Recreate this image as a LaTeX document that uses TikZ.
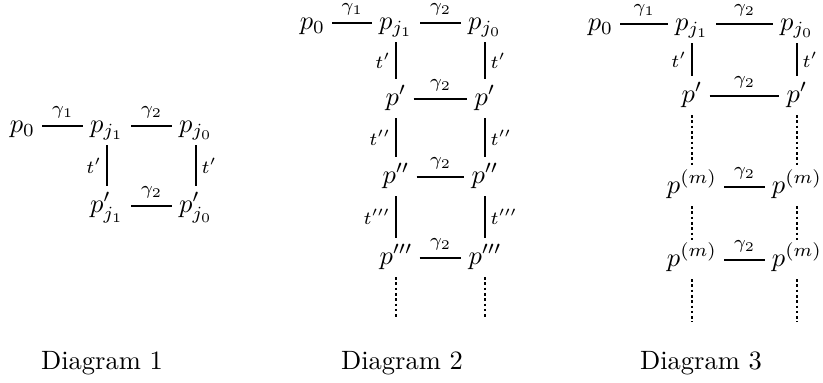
\documentclass[tikz,border=0pt]{standalone}
\begin{document}
\begin{tikzpicture}[x=0.3774pt,y=-0.3774pt,
  obj/.style={anchor=base, inner xsep=2.5pt, inner ysep=2pt, text height=7.7pt, text depth=2.5pt},
  lbl/.style={font=\scriptsize, inner sep=1.8pt},
  glbl/.style={font=\scriptsize, inner sep=2.6pt},
  ln/.style={line width=0.6pt},
  dl/.style={line width=0.6pt, dash pattern=on 1pt off 1pt},
  captext/.style={anchor=base, inner sep=0pt}]
\useasboundingbox (0,0) rectangle (823,383);
% ---------- Diagram 1
\node[obj] (a0) at (22.5,132.6) {$p_0$};
\node[obj] (a1) at (107,132.6) {$p_{j_1}$};
\node[obj] (a2) at (196,132.6) {$p_{j_0}$};
\node[obj] (b1) at (107,212.6) {$p'_{j_1}$};
\node[obj] (b2) at (196,212.6) {$p'_{j_0}$};
\draw[ln] ([yshift=2.5pt]a0.base east) -- node[above,glbl]{$\gamma_1$} ([yshift=2.5pt]a1.base west);
\draw[ln] ([yshift=2.5pt]a1.base east) -- node[above,glbl]{$\gamma_2$} ([yshift=2.5pt]a2.base west);
\draw[ln] ([yshift=2.5pt]b1.base east) -- node[above,glbl]{$\gamma_2$} ([yshift=2.5pt]b2.base west);
\draw[ln] (a1.south) -- node[left,lbl]{$t'$} (b1.north);
\draw[ln] (a2.south) -- node[right,lbl]{$t'$} (b2.north);
\node[captext] (c1) at (102,370) {Diagram 1};
% ---------- Diagram 2
\node[obj] (d0) at (312.5,29.6) {$p_0$};
\node[obj] (d1) at (396,29.6) {$p_{j_1}$};
\node[obj] (d2) at (485,29.6) {$p_{j_0}$};
\node[obj] (e1) at (396,105.6) {$p'$};
\node[obj] (e2) at (485,105.6) {$p'$};
\node[obj] (f1) at (396,183.6) {$p''$};
\node[obj] (f2) at (485,183.6) {$p''$};
\node[obj] (g1) at (396,264.6) {$p'''$};
\node[obj] (g2) at (485,264.6) {$p'''$};
\coordinate (h1) at (396,318);
\coordinate (h2) at (485,318);
\draw[ln] ([yshift=2.5pt]d0.base east) -- node[above,glbl]{$\gamma_1$} ([yshift=2.5pt]d1.base west);
\draw[ln] ([yshift=2.5pt]d1.base east) -- node[above,glbl]{$\gamma_2$} ([yshift=2.5pt]d2.base west);
\draw[ln] ([yshift=2.5pt]e1.base east) -- node[above,glbl]{$\gamma_2$} ([yshift=2.5pt]e2.base west);
\draw[ln] ([yshift=2.5pt]f1.base east) -- node[above,glbl]{$\gamma_2$} ([yshift=2.5pt]f2.base west);
\draw[ln] ([yshift=2.5pt]g1.base east) -- node[above,glbl]{$\gamma_2$} ([yshift=2.5pt]g2.base west);
\draw[ln] (d1.south) -- node[left,lbl]{$t'$} (e1.north);
\draw[ln] (d2.south) -- node[right,lbl]{$t'$} (e2.north);
\draw[ln] (e1.south) -- node[left,lbl]{$t''$} (f1.north);
\draw[ln] (e2.south) -- node[right,lbl]{$t''$} (f2.north);
\draw[ln] (f1.south) -- node[left,lbl]{$t'''$} (g1.north);
\draw[ln] (f2.south) -- node[right,lbl]{$t'''$} (g2.north);
\draw[dl] (g1.south) -- (h1);
\draw[dl] (g2.south) -- (h2);
\node[captext] (c2) at (402,370) {Diagram 2};
% ---------- Diagram 3
\node[obj] (k0) at (600.5,30.6) {$p_0$};
\node[obj] (k1) at (692,30.6) {$p_{j_1}$};
\node[obj] (k2) at (797,30.6) {$p_{j_0}$};
\node[obj] (l1) at (692,102.6) {$p'$};
\node[obj] (l2) at (797,102.6) {$p'$};
\node[obj] (m1) at (692,193.6) {$p^{(m)}$};
\node[obj] (m2) at (797,193.6) {$p^{(m)}$};
\node[obj] (n1) at (692,266.6) {$p^{(m)}$};
\node[obj] (n2) at (797,266.6) {$p^{(m)}$};
\coordinate (o1) at (692,322);
\coordinate (o2) at (797,322);
\draw[ln] ([yshift=2.5pt]k0.base east) -- node[above,glbl]{$\gamma_1$} ([yshift=2.5pt]k1.base west);
\draw[ln] ([yshift=2.5pt]k1.base east) -- node[above,glbl]{$\gamma_2$} ([yshift=2.5pt]k2.base west);
\draw[ln] ([yshift=2.5pt]l1.base east) -- node[above,glbl]{$\gamma_2$} ([yshift=2.5pt]l2.base west);
\draw[ln] ([yshift=2.5pt]m1.base east) -- node[above,glbl]{$\gamma_2$} ([yshift=2.5pt]m2.base west);
\draw[ln] ([yshift=2.5pt]n1.base east) -- node[above,glbl]{$\gamma_2$} ([yshift=2.5pt]n2.base west);
\draw[ln] (k1.south) -- node[left,lbl]{$t'$} (l1.north);
\draw[ln] (k2.south) -- node[right,lbl]{$t'$} (l2.north);
\draw[dl] (l1.south) -- (m1.north);
\draw[dl] (l2.south) -- (m2.north);
\draw[dl] (m1.south) -- (n1.north);
\draw[dl] (m2.south) -- (n2.north);
\draw[dl] (n1.south) -- (o1);
\draw[dl] (n2.south) -- (o2);
\node[captext] (c3) at (701,370) {Diagram 3};
\end{tikzpicture}
\end{document}
